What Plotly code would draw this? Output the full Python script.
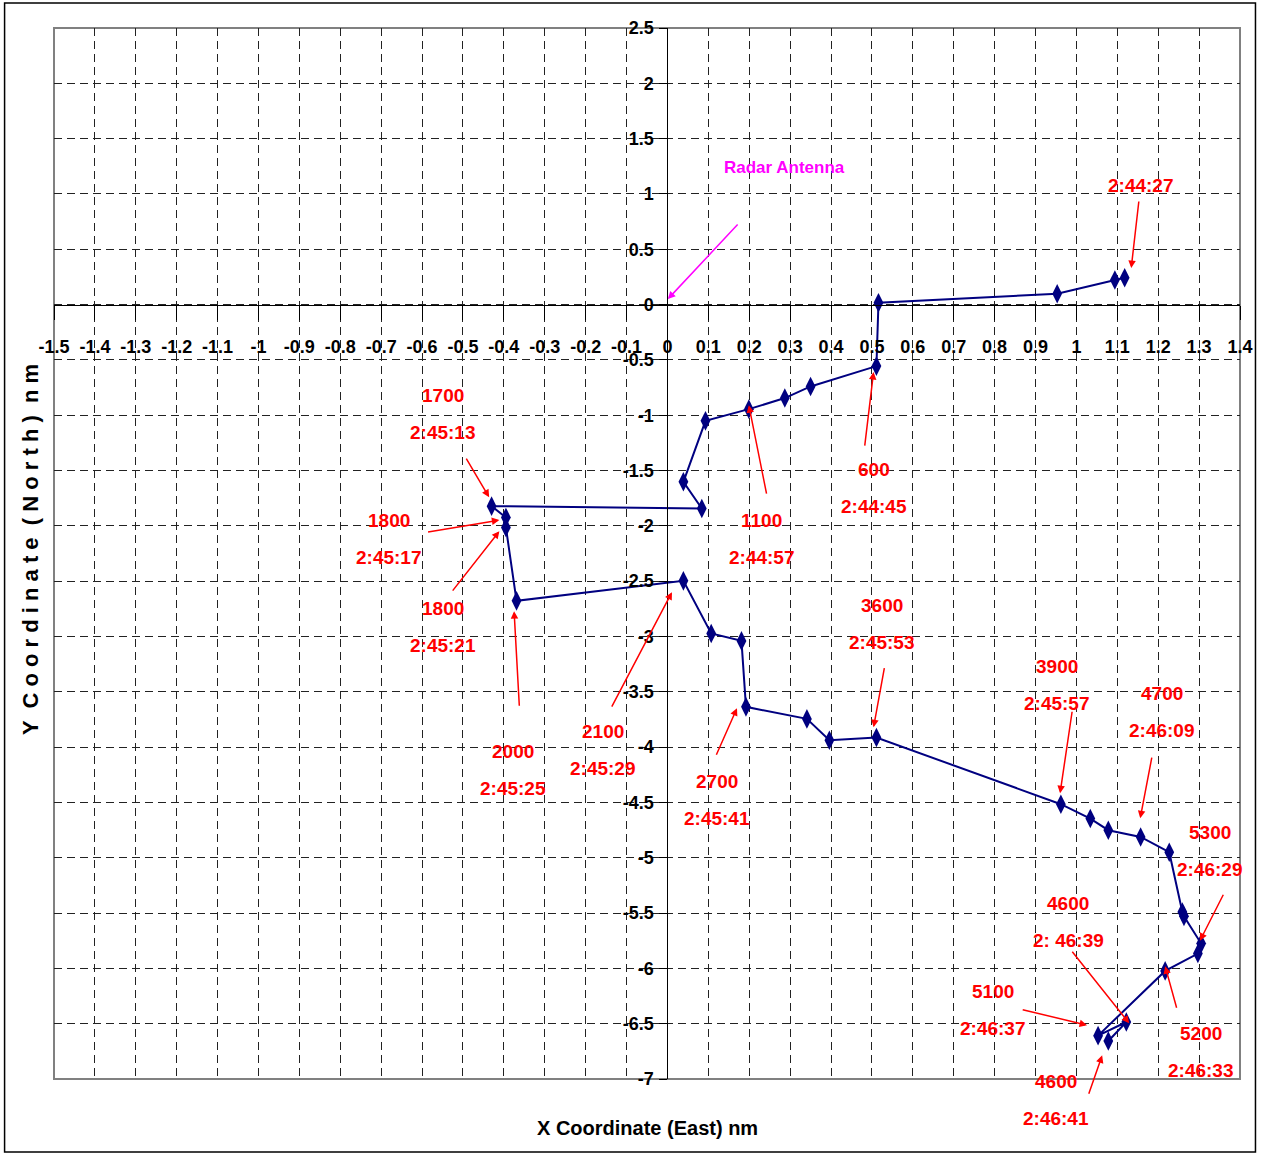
import plotly.graph_objects as go

# Track of the aircraft relative to the radar antenna (nautical miles)
x_east = [1.118, 1.094, 0.953, 0.516, 0.511, 0.350, 0.287, 0.199, 0.093, 0.039,
          0.084, -0.430, -0.395, -0.395, -0.369, 0.039, 0.107, 0.181, 0.192, 0.341,
          0.396, 0.511, 0.962, 1.034, 1.078, 1.157, 1.227, 1.259, 1.263, 1.305,
          1.297, 1.217, 1.053, 1.122, 1.078]
y_north = [0.242, 0.222, 0.098, 0.016, -0.556, -0.740, -0.845, -0.945, -1.051, -1.602,
           -1.843, -1.822, -1.924, -2.015, -2.678, -2.497, -2.973, -3.040, -3.636, -3.745,
           -3.938, -3.913, -4.516, -4.646, -4.751, -4.812, -4.950, -5.490, -5.530, -5.776,
           -5.866, -6.023, -6.608, -6.485, -6.656]

# Altitude / time callouts
callout_alt = ["600", "1100", "1700", "1800", "1800", "2000", "2100", "2700", "3600",
               "3900", "4700", "5300", "4600", "5100", "5200", "4600"]
callout_time = ["2:44:45", "2:44:57", "2:45:13", "2:45:17", "2:45:21", "2:45:25", "2:45:29",
                "2:45:41", "2:45:53", "2:45:57", "2:46:09", "2:46:29", "2: 46:39", "2:46:37",
                "2:46:33", "2:46:41"]
callout_text_x = [0.504, 0.230, -0.548, -0.682, -0.548, -0.377, -0.157, 0.121, 0.524,
                  0.953, 1.209, 1.326, 0.980, 0.797, 1.305, 0.951]
callout_text_y = [-1.659, -2.116, -0.986, -2.116, -2.911, -4.204, -4.024, -4.480, -2.889,
                  -3.436, -3.680, -4.941, -5.583, -6.379, -6.759, -7.188]
callout_tail_x = [0.482, 0.243, -0.494, -0.589, -0.528, -0.362, -0.138, 0.118, 0.531,
                  0.990, 1.185, 1.361, 0.987, 0.865, 1.246, 1.029]
callout_tail_y = [-1.288, -1.723, -1.379, -2.057, -2.599, -3.639, -3.648, -4.082, -3.273,
                  -3.667, -4.082, -5.321, -5.836, -6.370, -6.370, -7.148]
callout_head_x = [0.504, 0.199, -0.436, -0.411, -0.411, -0.375, 0.011, 0.170, 0.504,
                  0.960, 1.156, 1.302, 1.129, 1.026, 1.217, 1.063]
callout_head_y = [-0.610, -0.909, -1.741, -1.948, -2.048, -2.771, -2.600, -3.648, -3.820,
                  -4.417, -4.643, -5.750, -6.496, -6.514, -5.981, -6.786]

# Axis ticks
x_tick_vals = [round(-1.5 + 0.1 * i, 1) for i in range(30)]
x_tick_text = ["-1.5", "-1.4", "-1.3", "-1.2", "-1.1", "-1", "-0.9", "-0.8", "-0.7", "-0.6",
               "-0.5", "-0.4", "-0.3", "-0.2", "-0.1", "0", "0.1", "0.2", "0.3", "0.4",
               "0.5", "0.6", "0.7", "0.8", "0.9", "1", "1.1", "1.2", "1.3", "1.4"]
y_tick_vals = [2.5 - 0.5 * i for i in range(20)]
y_tick_text = ["2.5", "2", "1.5", "1", "0.5", "0", "-0.5", "-1", "-1.5", "-2", "-2.5", "-3",
               "-3.5", "-4", "-4.5", "-5", "-5.5", "-6", "-6.5", "-7"]

X_RANGE = [-1.5, 1.4]
Y_RANGE = [-7, 2.5]

SANS = "Liberation Sans, Arial, sans-serif"
RED = "#FF0000"
NAVY = "#000080"

W, H = 1265, 1154
ML, MR, MT, MB = 54, 23, 28, 75
PW, PH = W - ML - MR, H - MT - MB


def to_paper_x(v):
    return (v - X_RANGE[0]) / (X_RANGE[1] - X_RANGE[0])


def to_paper_y(v):
    return (v - Y_RANGE[0]) / (Y_RANGE[1] - Y_RANGE[0])


def text_note(x, y, txt, font, yshift=0):
    return dict(x=to_paper_x(x), y=to_paper_y(y), xref="paper", yref="paper", text=txt,
                showarrow=False, xanchor="center", yanchor="middle", yshift=yshift,
                font=font)


def arrow_note(hx, hy, tx, ty, color):
    return dict(x=hx, y=hy, ax=tx, ay=ty, xref="x", yref="y", axref="x", ayref="y",
                text="", showarrow=True, arrowhead=2, arrowsize=1, arrowwidth=1.5,
                arrowcolor=color)


fig = go.Figure()
fig.add_trace(go.Scatter(
    x=x_east, y=y_north, mode="lines+markers",
    line=dict(color=NAVY, width=2),
    marker=dict(symbol="diamond-tall", size=14, color=NAVY),
    showlegend=False, cliponaxis=False,
))

label_font = dict(family=SANS, size=19, color=RED, weight="bold")
annotations = []
for alt, tm, tx, ty in zip(callout_alt, callout_time, callout_text_x, callout_text_y):
    annotations.append(text_note(tx, ty, alt, label_font, 18.5))
    annotations.append(text_note(tx, ty, tm, label_font, -18.5))
for hx, hy, tx, ty in zip(callout_head_x, callout_head_y, callout_tail_x, callout_tail_y):
    annotations.append(arrow_note(hx, hy, tx, ty, RED))

# Start-of-track time
annotations.append(text_note(1.158, 1.080, "2:44:27", label_font))
annotations.append(arrow_note(1.134, 0.330, 1.153, 0.945, RED))

# Radar antenna at the origin
annotations.append(text_note(0.287, 1.243, "Radar Antenna",
                             dict(family=SANS, size=17, color="#FF00FF", weight="bold")))
annotations.append(arrow_note(0.001, 0.050, 0.175, 0.737, "#FF00FF"))

# Axis titles
annotations.append(dict(x=(648 - ML) / PW, y=(H - MB - 1128) / PH, xref="paper",
                        yref="paper", text="X Coordinate (East) nm", showarrow=False,
                        xanchor="center", yanchor="middle",
                        font=dict(family=SANS, size=20, color="black", weight="bold")))
annotations.append(dict(x=(30 - ML) / PW, y=(H - MB - 550) / PH,
                        xref="paper", yref="paper",
                        text="Y  C o o r d i n a t e  ( N o r t h )  n m",
                        showarrow=False, textangle=-90,
                        xanchor="center", yanchor="middle",
                        font=dict(family=SANS, size=22, color="black", weight="bold")))

shapes = [
    # plot-area frame
    dict(type="rect", xref="paper", yref="paper", x0=0, x1=1, y0=0, y1=1,
         line=dict(color="#808080", width=2), layer="below"),
    # outer chart frame
    dict(type="rect", xref="paper", yref="paper",
         x0=(4.5 - ML) / PW, x1=(1257.5 - ML) / PW,
         y0=(H - MB - 1152) / PH, y1=(H - MB - 3) / PH,
         line=dict(color="black", width=1.5)),
]

tick_font = dict(family=SANS, size=18, color="black", weight="bold")
axis_common = dict(showgrid=True, gridcolor="#222222", gridwidth=1, griddash="8px,5px",
                   zeroline=False, showline=True, linecolor="black", linewidth=1,
                   ticks="outside", tickcolor="black", tickwidth=1, anchor="free",
                   tickangle=0, tickfont=tick_font)

fig.update_layout(
    width=W, height=H,
    margin=dict(l=ML, r=MR, t=MT, b=MB, pad=0),
    paper_bgcolor="white", plot_bgcolor="white",
    xaxis=dict(range=X_RANGE, tickvals=x_tick_vals, ticktext=x_tick_text,
               position=to_paper_y(0), ticklen=14, ticklabelstandoff=12, **axis_common),
    yaxis=dict(range=Y_RANGE, tickvals=y_tick_vals, ticktext=y_tick_text,
               position=to_paper_x(0), ticklen=8, ticklabelstandoff=2, **axis_common),
    annotations=annotations,
    shapes=shapes,
)

fig.write_html("out.html")
